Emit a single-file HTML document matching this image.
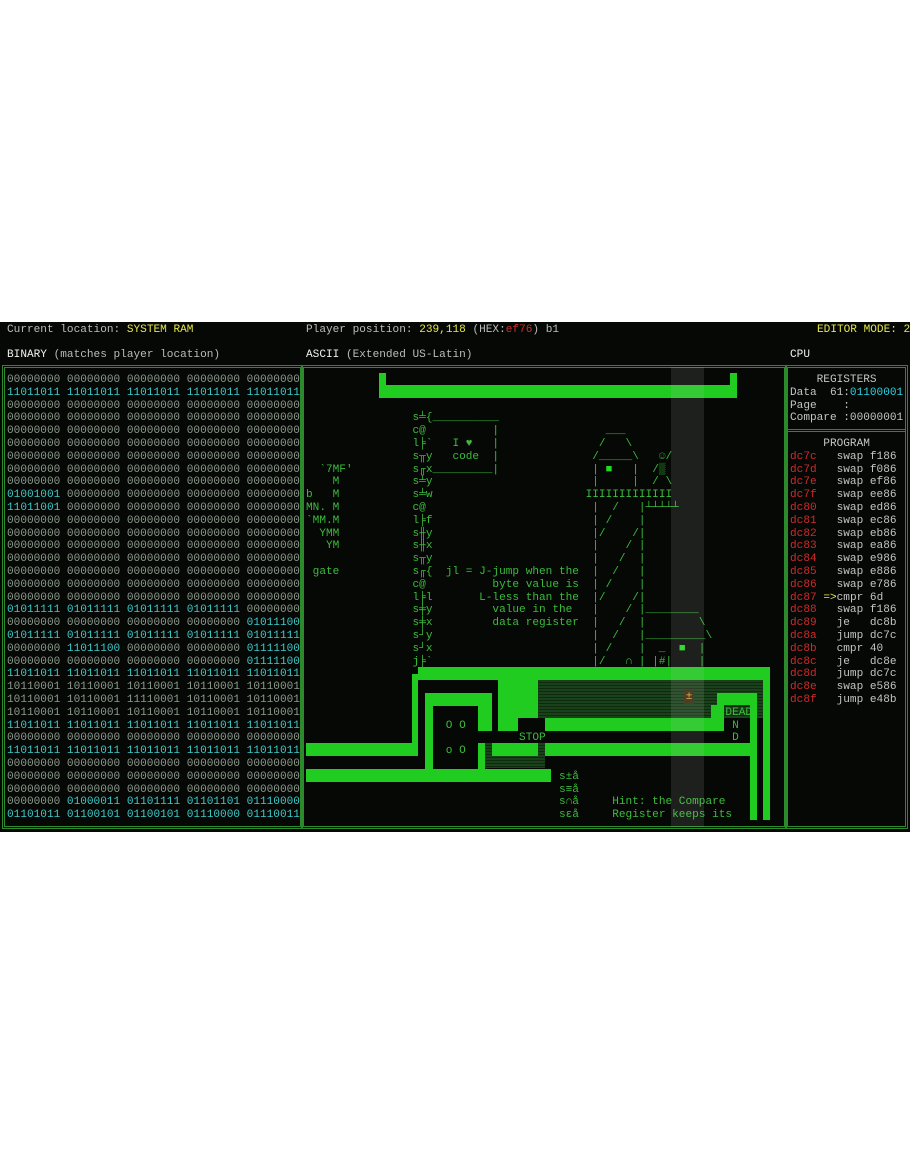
<!DOCTYPE html>
<html><head><meta charset="utf-8"><style>
*{margin:0;padding:0}
body{width:910px;height:1155px;background:#fff;position:relative;overflow:hidden;font-family:"Liberation Mono","DejaVu Sans Mono",monospace;font-size:11.1px}
#term{position:absolute;left:0;top:322px;width:910px;height:510px;background:#050805}
.t{position:absolute;white-space:pre;line-height:12.76px}
pre{position:absolute;margin:0;font-family:inherit;font-size:11.1px;line-height:12.8px;white-space:pre}
.box{position:absolute;border:3px double #2c8a2c;box-sizing:border-box}
.g{position:absolute;background:#1fcc1f}
.k{position:absolute;background:#050805}
.d{position:absolute;background:repeating-linear-gradient(#1a421a 0 2px,#102a10 2px 3px)}
.z{color:#8e9a8e}.c{color:#3ec8c8}
.y{color:#e6e64a}.w{color:#f2f2f2}.gr{color:#bcbcbc}.r{color:#d02a2a}.cb{color:#2ad0e0}
</style></head><body>
<div id="term"></div>
<div class="t gr" style="left:7px;top:324px">Current location: <span class="y">SYSTEM RAM</span></div>
<div class="t gr" style="left:306px;top:324px">Player position: <span class="y">239,118</span> (HEX:<span class="r">ef76</span>) b1</div>
<div class="t y" style="left:817px;top:324px">EDITOR MODE: 2</div>
<div class="t gr" style="left:7px;top:349px"><span class="w">BINARY</span> (matches player location)</div>
<div class="t gr" style="left:306px;top:349px"><span class="w">ASCII</span> (Extended US-Latin)</div>
<div class="t w" style="left:790px;top:349px">CPU</div>

<div class="box" style="left:2px;top:365px;width:301px;height:464px"></div>
<div class="box" style="left:301px;top:365px;width:486px;height:464px"></div>
<div class="box" style="left:785px;top:365px;width:123px;height:464px"></div>
<div style="position:absolute;left:788px;top:429px;width:117px;height:0;border-top:3px double #2c8a2c"></div>

<pre style="left:7px;top:374px"><span class="z">00000000 00000000 00000000 00000000 00000000</span>
<span class="c">11011011 11011011 11011011 11011011 11011011</span>
<span class="z">00000000 00000000 00000000 00000000 00000000
00000000 00000000 00000000 00000000 00000000
00000000 00000000 00000000 00000000 00000000
00000000 00000000 00000000 00000000 00000000
00000000 00000000 00000000 00000000 00000000
00000000 00000000 00000000 00000000 00000000
00000000 00000000 00000000 00000000 00000000</span>
<span class="c">01001001</span><span class="z"> 00000000 00000000 00000000 00000000</span>
<span class="c">11011001</span><span class="z"> 00000000 00000000 00000000 00000000
00000000 00000000 00000000 00000000 00000000
00000000 00000000 00000000 00000000 00000000
00000000 00000000 00000000 00000000 00000000
00000000 00000000 00000000 00000000 00000000
00000000 00000000 00000000 00000000 00000000
00000000 00000000 00000000 00000000 00000000
00000000 00000000 00000000 00000000 00000000</span>
<span class="c">01011111 01011111 01011111 01011111</span><span class="z"> 00000000</span>
<span class="z">00000000 00000000 00000000 00000000 </span><span class="c">01011100</span>
<span class="c">01011111 01011111 01011111 01011111 01011111</span>
<span class="z">00000000 </span><span class="c">11011100</span><span class="z"> 00000000 00000000 </span><span class="c">01111100</span>
<span class="z">00000000 00000000 00000000 00000000 </span><span class="c">01111100</span>
<span class="c">11011011 11011011 11011011 11011011 11011011</span>
<span class="z">10110001 10110001 10110001 10110001 10110001
10110001 10110001 11110001 10110001 10110001
10110001 10110001 10110001 10110001 10110001</span>
<span class="c">11011011 11011011 11011011 11011011 11011011</span>
<span class="z">00000000 00000000 00000000 00000000 00000000</span>
<span class="c">11011011 11011011 11011011 11011011 11011011</span>
<span class="z">00000000 00000000 00000000 00000000 00000000
00000000 00000000 00000000 00000000 00000000
00000000 00000000 00000000 00000000 00000000
00000000 </span><span class="c">01000011 01101111 01101101 01110000</span>
<span class="c">01101011 01100101 01100101 01110000 01110011</span></pre>

<!-- maze / bars -->
<div class="g" style="left:379px;top:373px;width:7px;height:25px"></div>
<div class="g" style="left:730px;top:373px;width:7px;height:25px"></div>
<div class="g" style="left:379px;top:385px;width:358px;height:13px"></div>

<div class="d" style="left:531px;top:680px;width:232px;height:38px"></div>
<div class="g" style="left:418px;top:667px;width:352px;height:13px"></div>
<div class="g" style="left:763px;top:667px;width:7px;height:153px"></div>
<div class="g" style="left:412px;top:674px;width:6px;height:82px"></div>
<div class="g" style="left:306px;top:743px;width:112px;height:13px"></div>
<div class="g" style="left:306px;top:769px;width:245px;height:13px"></div>
<div class="g" style="left:425px;top:693px;width:67px;height:13px"></div>
<div class="g" style="left:425px;top:693px;width:8px;height:76px"></div>
<div class="g" style="left:478px;top:693px;width:14px;height:38px"></div>
<div class="g" style="left:498px;top:680px;width:20px;height:51px"></div>
<div class="g" style="left:518px;top:680px;width:20px;height:38px"></div>
<div class="g" style="left:545px;top:718px;width:179px;height:13px"></div>
<div class="g" style="left:711px;top:705px;width:13px;height:14px"></div>
<div class="g" style="left:717px;top:693px;width:40px;height:12px"></div>
<div class="g" style="left:750px;top:693px;width:7px;height:127px"></div>
<div class="d" style="left:485px;top:743px;width:60px;height:25px"></div>
<div class="g" style="left:478px;top:743px;width:7px;height:26px"></div>
<div class="g" style="left:492px;top:743px;width:46px;height:13px"></div>
<div class="g" style="left:545px;top:743px;width:205px;height:13px"></div>
<div style="position:absolute;left:684px;top:690px;width:10px;height:14px;background:#3a2a10;color:#e0b040;font-size:11px;line-height:14px;text-align:center">±</div>

<pre style="left:306px;top:374px;color:#3cbc3c">



                s╧{__________
                c@          |                ___
                l╞`   I ♥   |               /   \
                s╥y   code  |              /_____\   ☺/
  `7MF'         s╓x_________|              | <span style="color:#1fdc1f">■</span>   |  /▒
    M           s╧y                        |     |  / \
b   M           s╧w                       IIIIIIIIIIIII
MN. M           c@                         |  /   |┴┴┴┴┴
`MM.M           l╞f                        | /    |
  YMM           s╫y                        |/    /|
   YM           s╫x                        |    / |
                s╥y                        |   /  |
 gate           s╓{  jl = J-jump when the  |  /   |
                c@          byte value is  | /    |
                l╞l       L-less than the  |/    /|
                s╪y         value in the   |    / |________
                s╪x         data register  |   /  |        \
                s┘y                        |  /   |_________\
                s┘x                        | /    |  _  <span style="color:#1fdc1f">■</span>  |
                j╞`                        |/   ∩ | |#|    |



                                                               DEAD
                     O O                                        N
                                STOP                            D
                     o O

                                      s±å
                                      s≡å
                                      s∩å     Hint: the Compare
                                      sεå     Register keeps its</pre>

<div style="position:absolute;left:671px;top:367px;width:33px;height:460px;background:rgba(200,200,200,0.13)"></div>

<pre style="left:790px;top:374px;color:#c4c4c4">    REGISTERS
Data  61:<span class="cb">01100001</span>
Page    :
Compare :00000001

     PROGRAM
<span class="r">dc7c</span>   swap f186
<span class="r">dc7d</span>   swap f086
<span class="r">dc7e</span>   swap ef86
<span class="r">dc7f</span>   swap ee86
<span class="r">dc80</span>   swap ed86
<span class="r">dc81</span>   swap ec86
<span class="r">dc82</span>   swap eb86
<span class="r">dc83</span>   swap ea86
<span class="r">dc84</span>   swap e986
<span class="r">dc85</span>   swap e886
<span class="r">dc86</span>   swap e786
<span class="r">dc87</span> <span class="y">=&gt;</span>cmpr 6d
<span class="r">dc88</span>   swap f186
<span class="r">dc89</span>   je   dc8b
<span class="r">dc8a</span>   jump dc7c
<span class="r">dc8b</span>   cmpr 40
<span class="r">dc8c</span>   je   dc8e
<span class="r">dc8d</span>   jump dc7c
<span class="r">dc8e</span>   swap e586
<span class="r">dc8f</span>   jump e48b</pre>
</body></html>
